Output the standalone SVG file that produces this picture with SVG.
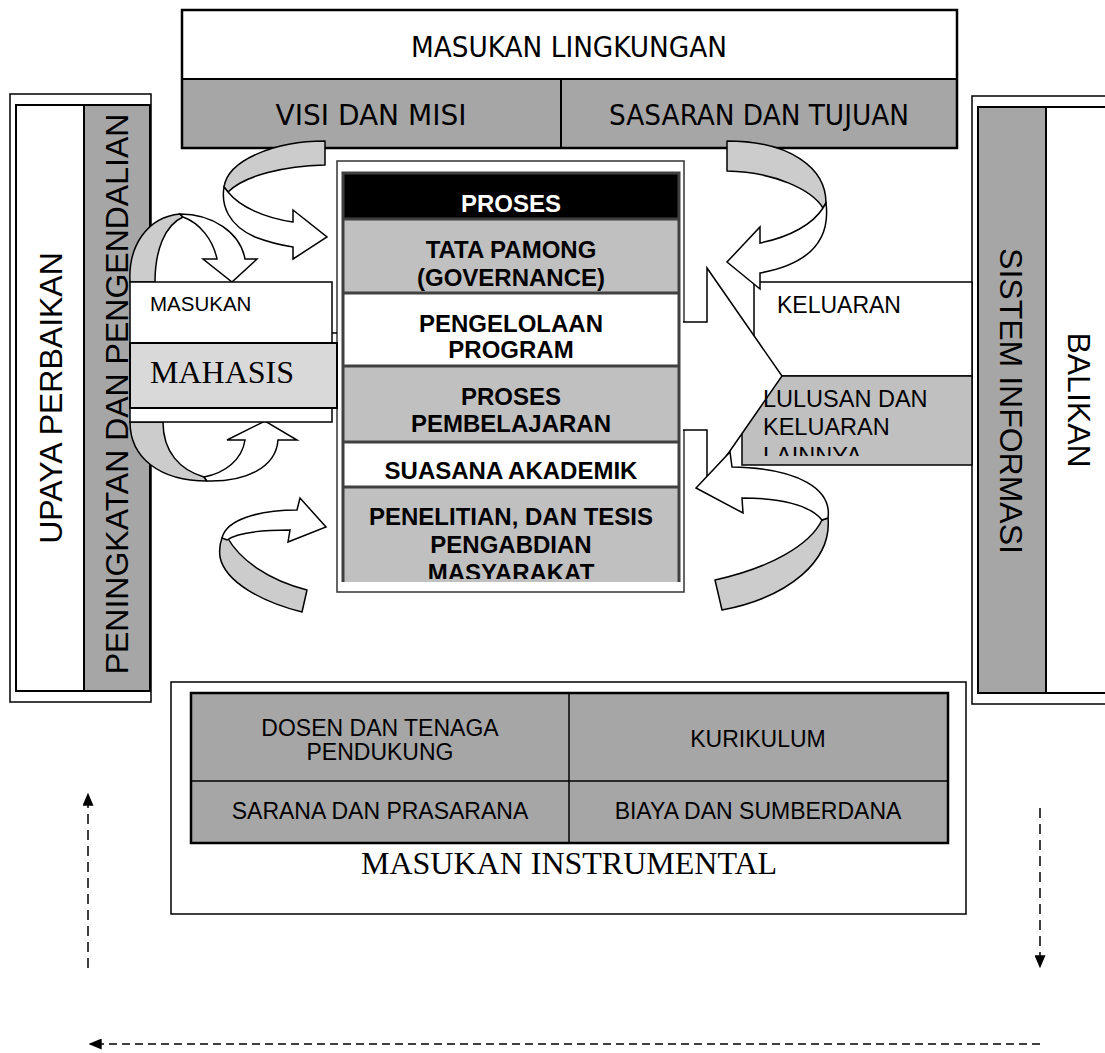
<svg xmlns="http://www.w3.org/2000/svg" width="1105" height="1053" viewBox="0 0 1105 1053">
<style>
.box{stroke:#000;stroke-width:2}
.thin{stroke:#000;stroke-width:1.5}
.g1{fill:#a6a6a6}
.g2{fill:#c0c0c0}
.g3{fill:#d9d9d9}
.w{fill:#fff}
.ta{font-family:"DejaVu Sans Condensed","DejaVu Sans","Liberation Sans",sans-serif;font-size:29px;fill:#000;text-anchor:middle}
.ar{font-family:"Liberation Sans",Arial,sans-serif;fill:#000}
.arb{font-family:"Liberation Sans",Arial,sans-serif;font-weight:bold;font-size:24px;fill:#000;text-anchor:middle}
.tm{font-family:"Liberation Serif","Times New Roman",serif;fill:#000}
.band{fill:#cccccc;stroke:#000;stroke-width:1.5;stroke-linejoin:round}
.arw{fill:#fff;stroke:#000;stroke-width:1.5;stroke-linejoin:miter}
.dash{stroke:#000;stroke-width:1.5;fill:none}
</style>
<defs>
<marker id="ah" viewBox="0 0 10 10" refX="9" refY="5" markerWidth="13" markerHeight="11" markerUnits="userSpaceOnUse" orient="auto" preserveAspectRatio="none"><path d="M0,0 L10,5 L0,10 Z" fill="#000"/></marker>
<clipPath id="clipProses"><rect x="343" y="173" width="336" height="406"/></clipPath>
<clipPath id="clipLulus"><rect x="742" y="376" width="230" height="80"/></clipPath>
</defs>

<g id="upaya-perbaikan">
<rect x="10" y="94" width="141" height="608" class="w thin"/>
<rect x="16" y="105" width="68" height="586" class="w box"/>
<rect x="84" y="105" width="66" height="586" class="g1 box"/>
<text class="ar" font-size="32" text-anchor="middle" transform="translate(62,398) rotate(-90)">UPAYA PERBAIKAN</text>
<text class="ar" font-size="32" text-anchor="middle" transform="translate(128,394) rotate(-90)">PENINGKATAN DAN PENGENDALIAN</text>
</g>

<g id="balikan">
<rect x="972" y="96" width="140" height="608" class="w thin"/>
<rect x="978" y="107" width="140" height="586" class="w box"/>
<rect x="978" y="107" width="68" height="586" class="g1 box"/>
<text class="ar" font-size="32" text-anchor="middle" transform="translate(1000,401) rotate(90)">SISTEM INFORMASI</text>
<text class="ar" font-size="32" text-anchor="middle" transform="translate(1068,400) rotate(90)">BALIKAN</text>
</g>

<g id="masukan-lingkungan">
<rect x="182" y="10" width="775" height="138" class="w box" stroke-width="2.5"/>
<rect x="182" y="79" width="379" height="69" class="g1 box"/>
<rect x="561" y="79" width="396" height="69" class="g1 box"/>
<rect x="182" y="10" width="775" height="138" fill="none" stroke="#000" stroke-width="2.5"/>
<text class="ta" x="569" y="57" textLength="316" lengthAdjust="spacingAndGlyphs">MASUKAN LINGKUNGAN</text>
<text class="ta" x="371" y="125" textLength="191" lengthAdjust="spacingAndGlyphs">VISI DAN MISI</text>
<text class="ta" x="759" y="125" textLength="300" lengthAdjust="spacingAndGlyphs">SASARAN DAN TUJUAN</text>
</g>

<g id="masukan-instrumental">
<rect x="171" y="682" width="795" height="232" class="w thin"/>
<rect x="191" y="693" width="757" height="150" class="g1" stroke="#000" stroke-width="2.5"/>
<line x1="569" y1="693" x2="569" y2="843" stroke="#000" stroke-width="1.5"/>
<line x1="191" y1="781" x2="948" y2="781" stroke="#000" stroke-width="1.5"/>
<text class="ar" font-size="23" text-anchor="middle" x="380" y="736">DOSEN DAN TENAGA</text>
<text class="ar" font-size="23" text-anchor="middle" x="380" y="760">PENDUKUNG</text>
<text class="ar" font-size="23" text-anchor="middle" x="758" y="747">KURIKULUM</text>
<text class="ar" font-size="23" text-anchor="middle" x="380" y="819">SARANA DAN PRASARANA</text>
<text class="ar" font-size="23" text-anchor="middle" x="758" y="819">BIAYA DAN SUMBERDANA</text>
<text class="tm" font-size="32" text-anchor="middle" x="569" y="874">MASUKAN INSTRUMENTAL</text>
</g>

<g id="proses">
<rect x="337" y="161" width="347" height="431" fill="#fff" stroke="#333" stroke-width="1.5"/>
<rect x="343" y="173" width="336" height="46" fill="#000"/>
<rect x="343" y="219" width="336" height="74" class="g2"/>
<rect x="343" y="293" width="336" height="73" fill="#fff"/>
<rect x="343" y="366" width="336" height="76" class="g2"/>
<rect x="343" y="442" width="336" height="45" fill="#fff"/>
<rect x="343" y="487" width="336" height="95" class="g2"/>
<g stroke="#404040" stroke-width="3" fill="none">
<path d="M343,582 V173 H679 V582"/>
<path d="M343,219 H679 M343,293 H679 M343,366 H679 M343,442 H679 M343,487 H679"/>
</g>
<g clip-path="url(#clipProses)">
<text class="arb" x="511" y="212" style="fill:#fff">PROSES</text>
<text class="arb" x="511" y="258">TATA PAMONG</text>
<text class="arb" x="511" y="286">(GOVERNANCE)</text>
<text class="arb" x="511" y="332">PENGELOLAAN</text>
<text class="arb" x="511" y="358">PROGRAM</text>
<text class="arb" x="511" y="405">PROSES</text>
<text class="arb" x="511" y="432">PEMBELAJARAN</text>
<text class="arb" x="511" y="479">SUASANA AKADEMIK</text>
<text class="arb" x="511" y="525">PENELITIAN, DAN TESIS</text>
<text class="arb" x="511" y="553">PENGABDIAN</text>
<text class="arb" x="511" y="581">MASYARAKAT</text>
</g>
</g>

<g id="keluaran">
<rect x="754" y="282" width="218" height="94" class="w thin"/>
<rect x="742" y="376" width="230" height="89" class="g2 thin"/>
<polygon points="682.5,322 707,322 707,268 782,376 707,484 707,430 682.5,430" fill="#fff"/>
<polyline points="683,322 707,322 707,268 782,376 707,484 707,430 683,430" fill="none" stroke="#000" stroke-width="1.5"/>
<text class="ar" font-size="23" x="777" y="313">KELUARAN</text>
<g clip-path="url(#clipLulus)">
<text class="ar" font-size="23.5" x="763" y="407">LULUSAN DAN</text>
<text class="ar" font-size="23.5" x="763" y="435">KELUARAN</text>
<text class="ar" font-size="23.5" x="763" y="464">LAINNYA</text>
</g>
</g>

<g id="connectors">
<path class="band" d="M325,141 L325,165 C285,166 245,175 228,192 L224,187 C228,160 275,141 325,141 Z"/>
<path class="arw" d="M224,187 C221,205 228,225 255,237 C268,242 280,245 293,247 L293,259 L327,237 L293,210 L293,222 C265,218 240,207 228,192 Z"/>
<path class="band" d="M727,141 C790,141 826,168 826,203 L823,208 C812,190 775,172 727,171 Z"/>
<path class="arw" d="M826,203 C830,235 815,263 760,273 L760,289 L727,262 L760,227 L760,243 C790,237 813,224 823,208 Z"/>
<path class="band" d="M130,282 C128,245 148,217 180,214 L183,217 C165,225 155,250 155,282 Z"/>
<path class="arw" d="M180,214 C212,214 240,232 245,259 L257,259 L232,282 L203,259 L217,259 C213,240 200,223 183,217 Z"/>
<path class="band" d="M130,422 C130,458 160,481 207,481 L204,477 C180,470 163,452 163,422 Z"/>
<path class="arw" d="M207,481 C245,482 276,468 278,440 L297,440 L265,421 L227,440 L245,440 C242,460 225,473 204,477 Z"/>
<path class="band" d="M227,537 C240,560 268,580 307,590 L302,612 C262,602 225,582 220,557 C219,549 220,543 222,538 Z"/>
<path class="arw" d="M222,538 C226,520 258,510 297,510 L300,498 L326,527 L288,542 L290,530 C262,530 238,532 227,540 Z"/>
<path class="band" d="M828,518 C832,560 790,597 722,610 L715,580 C770,568 810,545 822,520 Z"/>
<path class="arw" d="M828,518 C832,490 800,468 732,467 L730,452 L696,488 L743,513 L742,498 C780,498 810,505 822,520 Z"/>
<line class="dash" stroke-dasharray="10,6" x1="88" y1="968" x2="88" y2="794" marker-end="url(#ah)"/>
<line class="dash" stroke-dasharray="10,6" x1="1040" y1="808" x2="1040" y2="967" marker-end="url(#ah)"/>
<line class="dash" stroke-dasharray="8,5" x1="1040" y1="1044" x2="90" y2="1044" marker-end="url(#ah)"/>
</g>

<g id="masukan-mahasiswa">
<rect x="130" y="282" width="202" height="140" class="w thin"/>
<polyline points="332,333 337,333" stroke="#000" stroke-width="1.5"/>
<rect x="130" y="343" width="207" height="65" class="g3 box"/>
<text class="ar" font-size="20.5" x="150" y="311">MASUKAN</text>
<text class="tm" font-size="32" x="150" y="383">MAHASIS</text>
</g>
</svg>
